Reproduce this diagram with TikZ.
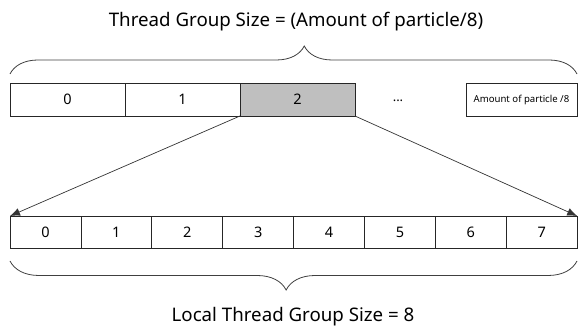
\documentclass[tikz,border=0pt]{standalone}
\usepackage{fontspec}
\setmainfont{Noto Sans}
\usetikzlibrary{positioning,arrows.meta,decorations.pathreplacing}

\tikzset{
  cellbox/.style={draw=black!85, line width=0.8pt, minimum height=32.5pt, inner sep=0pt, outer sep=0pt, font=\fontsize{14.5}{16}\selectfont},
  bigcell/.style={cellbox, minimum width=115pt},
  smallcell/.style={cellbox, minimum width=70.9pt},
  spread/.style={draw=black!80, line width=0.7pt, -{Latex[length=10pt,width=8pt]}},
  bracket/.style={draw=black!75, line width=0.8pt, decorate}
}

\begin{document}
\begin{tikzpicture}[x=1pt,y=-1pt]
        \useasboundingbox (0,0) rectangle (579,331);

        % Title
        \node[anchor=base, font=\fontsize{18.7}{22}\selectfont] (title) at (296,27) {Thread Group Size = (Amount of particle/8)};

        % Thread groups
        \node[bigcell, anchor=north west] (t0) at (10,83.5) {0};
        \node[bigcell, right=0pt of t0] (t1) {1};
        \node[bigcell, fill=black!25, right=0pt of t1] (t2) {2};
        \node[anchor=base, font=\fontsize{13}{15}\selectfont] (tdots) at (398,101.5) {...};
        \node[cellbox, minimum width=111pt, anchor=north west, font=\fontsize{9.6}{11}\selectfont] (tlast) at (466,83.5) {Amount of particle /8};

        % Top brace
        \coordinate (tbl) at (10,74);
        \coordinate (tbr) at (577,74);
        \path[bracket, decoration={brace, amplitude=28pt, aspect=0.519}] (tbl) -- (tbr);

        % Local threads
        \node[smallcell, anchor=north west] (b0) at (10,216) {0};
        \foreach \i [count=\j from 0] in {1,...,7}
          \node[smallcell, right=0pt of b\j] (b\i) {\i};

        % Expansion arrows
        \draw[spread] (t2.south west) -- (b0.north west);
        \draw[spread] (t2.south east) -- (b7.north east);

        % Bottom brace
        \coordinate (bbl) at (10,261);
        \coordinate (bbr) at (577,261);
        \path[bracket, decoration={brace, mirror, amplitude=29pt, aspect=0.487}] (bbl) -- (bbr);

        \node[anchor=base, font=\fontsize{18.7}{22}\selectfont] (local) at (293,322) {Local Thread Group Size = 8};
\end{tikzpicture}
\end{document}
